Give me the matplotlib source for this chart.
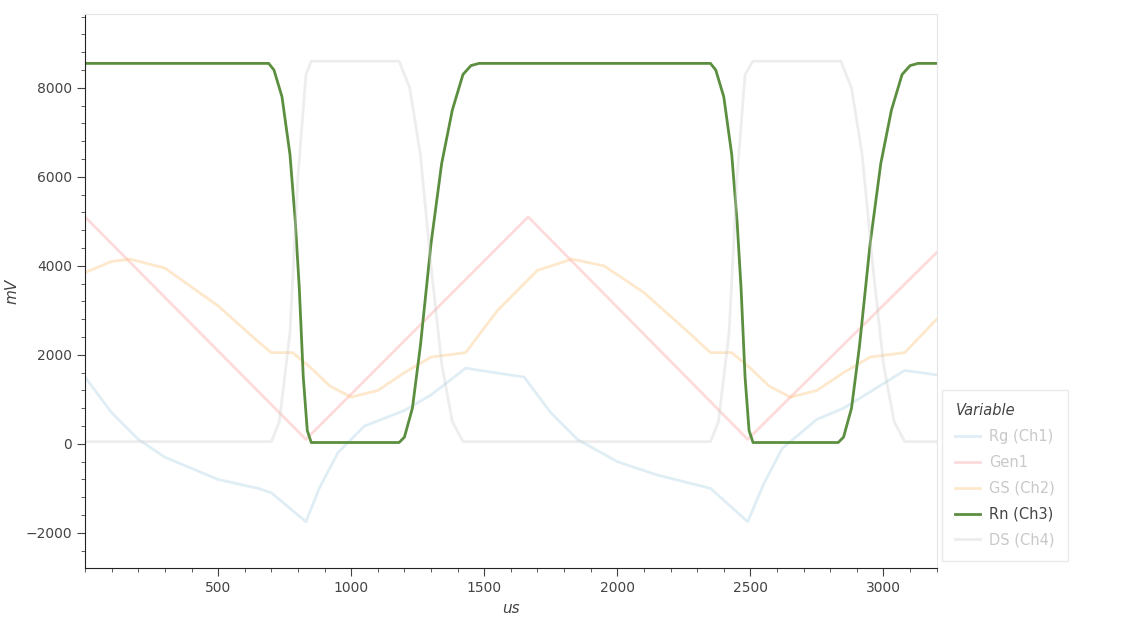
import numpy as np
import matplotlib.pyplot as plt
from matplotlib.ticker import MultipleLocator

# breakpoints (us, mV)
rg_t = [0, 100, 200, 300, 500, 650, 700, 830, 880, 950, 1050, 1200, 1300, 1430,
        1650, 1750, 1850, 2000, 2150, 2350, 2490, 2550, 2620, 2750, 2850, 3080, 3200]
rg_v = [1500, 700, 100, -300, -800, -1000, -1100, -1750, -1000, -200, 400, 750, 1100, 1700,
        1500, 700, 100, -400, -700, -1000, -1750, -900, -100, 550, 800, 1650, 1550]

gen_t = [0, 830, 1665, 2490, 3200]
gen_v = [5100, 100, 5100, 100, 4300]

gs_t = [0, 100, 170, 300, 500, 650, 700, 780, 850, 920, 1000, 1100, 1200, 1300, 1430,
        1550, 1700, 1830, 1950, 2100, 2250, 2350, 2430, 2500, 2570, 2650, 2750, 2850, 2950, 3080, 3200]
gs_v = [3850, 4100, 4150, 3950, 3100, 2300, 2050, 2050, 1700, 1300, 1050, 1200, 1600, 1950, 2050,
        3000, 3900, 4150, 4000, 3400, 2600, 2050, 2050, 1700, 1300, 1050, 1200, 1600, 1950, 2050, 2800]

rn_t = [0, 690, 710, 740, 770, 790, 805, 820, 835, 850, 1180, 1200, 1230, 1260, 1300, 1340, 1380, 1420, 1450, 1480,
        2350, 2370, 2400, 2430, 2450, 2465, 2480, 2495, 2510, 2830, 2850, 2880, 2910, 2950, 2990, 3030, 3070, 3100, 3130, 3200]
rn_v = [8550, 8550, 8400, 7800, 6500, 5000, 3500, 1500, 300, 30, 30, 150, 800, 2200, 4500, 6300, 7500, 8300, 8500, 8550,
        8550, 8400, 7800, 6500, 5000, 3500, 1500, 300, 30, 30, 150, 800, 2200, 4500, 6300, 7500, 8300, 8500, 8550, 8550]

ds_t = [0, 700, 730, 770, 800, 830, 850, 1180, 1220, 1260, 1300, 1340, 1380, 1420,
        2350, 2380, 2420, 2450, 2480, 2510, 2840, 2880, 2920, 2960, 3000, 3040, 3080, 3200]
ds_v = [50, 50, 500, 2500, 6000, 8300, 8600, 8600, 8000, 6500, 4000, 1800, 500, 50,
        50, 500, 2500, 6000, 8300, 8600, 8600, 8000, 6500, 4000, 1800, 500, 50, 50]

fig = plt.figure(figsize=(11.25, 6.25), dpi=100)
ax = fig.add_axes([0.0756, 0.0912, 0.757, 0.8864])

ax.plot(rg_t, rg_v, color='#a6cee3', lw=2, alpha=0.35, label='Rg (Ch1)')
ax.plot(gen_t, gen_v, color='#fb9a99', lw=2, alpha=0.35, label='Gen1')
ax.plot(gs_t, gs_v, color='#fdbf6f', lw=2, alpha=0.35, label='GS (Ch2)')
ax.plot(rn_t, rn_v, color='#5b8f3f', lw=2, label='Rn (Ch3)')
ax.plot(ds_t, ds_v, color='#cccccc', lw=2, alpha=0.35, label='DS (Ch4)')

ax.set_xlim(0, 3200)
ax.set_ylim(-2790, 9660)
ax.xaxis.set_major_locator(MultipleLocator(500))
ax.xaxis.set_minor_locator(MultipleLocator(100))
ax.yaxis.set_major_locator(MultipleLocator(2000))
ax.yaxis.set_minor_locator(MultipleLocator(400))
ax.tick_params(which='both', direction='out', labelsize=10, colors='#444444')
ax.tick_params(which='major', length=6)
ax.tick_params(which='minor', length=3)
ax.set_xlabel('us', style='italic', fontsize=11, color='#444444')
ax.set_ylabel('mV', style='italic', fontsize=11, color='#444444')
for s in ['top', 'right']:
    ax.spines[s].set_color('#e5e5e5')
for s in ['left', 'bottom']:
    ax.spines[s].set_color('#222222')
ax.set_xticks([500, 1000, 1500, 2000, 2500, 3000])

leg = ax.legend(loc='lower left', bbox_to_anchor=(0.998, 0.0), title='Variable',
                frameon=True, fontsize=10.5, title_fontsize=10.5, fancybox=False,
                borderpad=0.9, labelspacing=0.75, handlelength=1.7, handletextpad=0.6)
leg.get_frame().set_edgecolor('#e5e5e5')
leg.get_title().set_style('italic')
leg.get_title().set_color('#444444')
leg._legend_box.align = 'left'
for txt in leg.get_texts():
    if txt.get_text() == 'Rn (Ch3)':
        txt.set_color('#444444')
    else:
        txt.set_color('#c8c8c8')

fig.savefig('out.png', dpi=100)
